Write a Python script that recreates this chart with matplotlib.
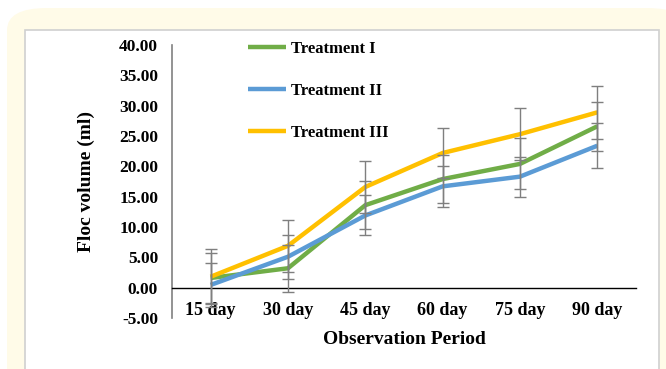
import matplotlib
matplotlib.use('Agg')
import matplotlib.pyplot as plt
from matplotlib.patches import FancyBboxPatch, Rectangle

plt.rcParams['font.family'] = ['Liberation Serif', 'DejaVu Serif']
plt.rcParams['font.weight'] = 'bold'

days = ['15 day', '30 day', '45 day', '60 day', '75 day', '90 day']
t1 = [1.6, 3.2, 13.6, 17.9, 20.4, 26.6]
t2 = [0.45, 5.1, 11.9, 16.7, 18.3, 23.4]
t3 = [1.8, 6.9, 16.6, 22.2, 25.3, 28.9]
t1_err = [4.1, 3.9, 4.0, 4.0, 4.2, 4.0]
t2_err = [3.6, 3.6, 3.3, 3.4, 3.3, 3.7]
t3_err = [4.5, 4.3, 4.3, 4.1, 4.3, 4.4]
yticks = [-5, 0, 5, 10, 15, 20, 25, 30, 35, 40]

fig = plt.figure(figsize=(6.66, 3.69), dpi=100)
W, H = 666, 369

# page decoration: pale yellow rounded panel and white box
fig.patches.append(FancyBboxPatch((7 / W, -0.2), 680 / W, 1.2 - 8 / H,
                                  boxstyle='round,pad=0,rounding_size=0.06',
                                  transform=fig.transFigure, facecolor='#fffbe8',
                                  edgecolor='none', zorder=-2))
fig.patches.append(Rectangle((25 / W, -0.05), 634 / W, (369 - 30) / H + 0.05,
                             transform=fig.transFigure, facecolor='white',
                             edgecolor='#d0d0d0', linewidth=1.2, zorder=-1))

ax = fig.add_axes([172 / W, 1 - 318 / H, 464 / W, 273 / H])
ax.set_facecolor('none')
x = list(range(len(days)))

# spines first: moving the bottom spine resets the tick labels
ax.spines['top'].set_visible(False)
ax.spines['right'].set_visible(False)
ax.spines['bottom'].set_position(('data', 0))
ax.spines['bottom'].set_color('black')
ax.spines['bottom'].set_linewidth(1)
ax.spines['left'].set_color('#808080')
ax.spines['left'].set_linewidth(1.2)

series = [(t1, t1_err, '#70ad47', 'Treatment I'),
          (t2, t2_err, '#5b9bd5', 'Treatment II'),
          (t3, t3_err, '#ffc000', 'Treatment III')]
for vals, err, col, lab in series:
    ax.plot(x, vals, color=col, lw=3.2, label=lab, zorder=3, solid_capstyle='butt')
for vals, err, col, lab in series:
    ax.errorbar(x, vals, yerr=err, fmt='none', ecolor='#7f7f7f', elinewidth=1,
                capsize=4, capthick=1, zorder=4)

ax.set_xlim(-0.5, len(days) - 0.5)
ax.set_ylim(-5, 40)
ax.set_yticks(yticks)
ax.set_yticklabels(['%.2f' % v for v in yticks], fontsize=12.5, fontweight='bold')
ax.set_xticks(x)
ax.set_xticklabels(days, fontsize=13, fontweight='bold')
ax.tick_params(axis='both', length=0)
ax.tick_params(axis='x', pad=10, labelsize=13)
ax.tick_params(axis='y', pad=10)

ax.set_ylabel('Floc volume (ml)', fontsize=14, fontweight='bold')
ax.yaxis.set_label_coords(-0.165, 0.5)
ax.set_xlabel('Observation Period', fontsize=14, fontweight='bold')
ax.xaxis.set_label_coords(0.5, -0.047)

ax.legend(loc='upper left', bbox_to_anchor=(0.164, 1.015), frameon=False,
          prop={'size': 12, 'weight': 'bold'}, handlelength=2.3,
          handletextpad=0.25, labelspacing=1.55, borderpad=0, borderaxespad=0)

fig.savefig('out.png', dpi=100)
